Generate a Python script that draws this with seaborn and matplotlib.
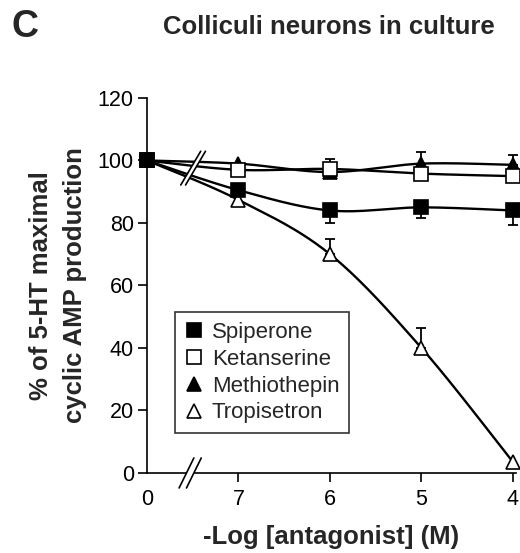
import numpy as np
import pandas as pd
import matplotlib
matplotlib.use("Agg")
import matplotlib.pyplot as plt
import seaborn as sns
from matplotlib.lines import Line2D
from matplotlib.patches import Polygon

# -Log [antagonist]; the control (no antagonist) sits left of the axis break, labelled "0"
log_conc = [8, 7, 6, 5, 4]
tick_labels = ["0", "7", "6", "5", "4"]

drugs = ["Spiperone", "Ketanserine", "Methiothepin", "Tropisetron"]
spiperone = [100, 90.5, 84, 85, 84]
ketanserine = [100, 97, 97.3, 95.8, 95]
methiothepin = [100, 99, 96.3, 99, 98.6]
tropisetron = [100, 87.4, 70, 40, 3.5]

# one-sided SEM bars (down for spiperone, up for the others)
spiperone_err = [0, 0, 4, 3.4, 4.8]
ketanserine_err = [0, 0, 3.2, 0, 0]
methiothepin_err = [0, 0, 0, 3.6, 3.2]
tropisetron_err = [0, 0, 5, 6.4, 0]

values = [spiperone, ketanserine, methiothepin, tropisetron]
errors = [spiperone_err, ketanserine_err, methiothepin_err, tropisetron_err]
err_down = [True, False, False, False]
markers = ["s", "s", "^", "^"]
faces = ["black", "white", "black", "white"]


def smooth(xs, ys, n=40):
    # Catmull-Rom curve through the points (like a "smoothed line" in a spreadsheet)
    P = np.column_stack([xs, ys]).astype(float)
    P = np.vstack([P[0], P, P[-1]])
    t = np.linspace(0, 1, n)[:, None]
    segs = []
    for i in range(1, len(P) - 2):
        p0, p1, p2, p3 = P[i - 1], P[i], P[i + 1], P[i + 2]
        segs.append(0.5 * (2 * p1 + (-p0 + p2) * t
                           + (2 * p0 - 5 * p1 + 4 * p2 - p3) * t ** 2
                           + (-p0 + 3 * p1 - 3 * p2 + p3) * t ** 3))
    return np.vstack(segs)


curves = []
for name, ys in zip(drugs, values):
    c = smooth(log_conc, ys)
    curves.append(pd.DataFrame({"x": c[:, 0], "y": c[:, 1], "drug": name}))
curves = pd.concat(curves, ignore_index=True)

sns.set_style("ticks")
plt.rcParams["font.family"] = ["Liberation Sans", "DejaVu Sans"]

fig = plt.figure(figsize=(5.2, 5.53), dpi=100)
ax = fig.add_axes([0.2827, 0.1447, 0.7096, 0.6781])

sns.lineplot(data=curves, x="x", y="y", units="drug", estimator=None, sort=False,
             color="black", linewidth=1.7, ax=ax, legend=False)

# triangles first, then open squares, filled squares on top (as in the original)
for i in [3, 2, 1, 0]:
    ys = np.array(values[i])
    e = np.array(errors[i])
    xs = np.array(log_conc)
    m = e > 0
    if m.any():
        yerr = [e[m], np.zeros(m.sum())] if err_down[i] else [np.zeros(m.sum()), e[m]]
        ax.errorbar(xs[m], ys[m], yerr=yerr, fmt="none", ecolor="black",
                    elinewidth=1.3, capsize=3.6, capthick=1.3, zorder=3, clip_on=False)
    ax.plot(xs, ys, ls="none", marker=markers[i], ms=10, mfc=faces[i], mec="black",
            mew=1.2, zorder=4, clip_on=False)

ax.set_xlim(8, 3.967)
ax.set_ylim(0, 120)
ax.set_xticks(log_conc)
ax.set_xticklabels(tick_labels)
ax.set_yticks(range(0, 121, 20))
sns.despine(ax=ax)
for s in ["left", "bottom"]:
    ax.spines[s].set_linewidth(1.2)
    ax.spines[s].set_color("black")
ax.tick_params(axis="both", direction="out", length=6.5, width=1.2, color="black",
               labelsize=15.5, labelcolor="black")
ax.tick_params(axis="x", pad=5)
ax.tick_params(axis="y", pad=3)
ax.xaxis.get_major_ticks()[0].tick1line.set_visible(False)

ax.set_xlabel("-Log [antagonist] (M)", fontsize=18.5, fontweight="bold", labelpad=11)
ax.set_ylabel("% of 5-HT maximal\ncyclic AMP production", fontsize=18.5,
              fontweight="bold", labelpad=8, linespacing=1.5)

# axis break on the x axis and across the curves
def brk(xc, yc, dx, dy, gap, h=0.0):
    tr = ax.transAxes
    x1, x2 = xc - gap / 2, xc + gap / 2
    poly = Polygon([(x1 - dx, yc - dy - h), (x2 - dx, yc - dy - h),
                    (x2 + dx, yc + dy + h), (x1 + dx, yc + dy + h)],
                   closed=True, transform=tr, facecolor="white", edgecolor="none",
                   zorder=5, clip_on=False)
    ax.add_patch(poly)
    for xx in (x1, x2):
        ax.add_line(Line2D([xx - dx, xx + dx], [yc - dy, yc + dy], transform=tr,
                           color="black", lw=1.2, zorder=6, clip_on=False))

brk(0.117, 0.0, 0.02, 0.04, 0.02)
brk(0.125, 0.813, 0.027, 0.045, 0.013)

handles = [Line2D([], [], ls="none", marker=markers[i], ms=10, mfc=faces[i],
                  mec="black", mew=1.2) for i in range(4)]
leg = ax.legend(handles, drugs, loc="upper left", bbox_to_anchor=(0.076, 0.429),
                borderaxespad=0, fontsize=16, frameon=True, fancybox=False,
                handlelength=0.8, handletextpad=0.4, labelspacing=0.26,
                borderpad=0.45)
leg.get_frame().set_edgecolor("black")
leg.get_frame().set_linewidth(1.2)

fig.text(0.023, 0.951, "C", fontsize=27, fontweight="bold", va="center", ha="left")
fig.text(0.633, 0.951, "Colliculi neurons in culture", fontsize=18.5,
         fontweight="bold", va="center", ha="center")

fig.savefig("out.png", dpi=100)
